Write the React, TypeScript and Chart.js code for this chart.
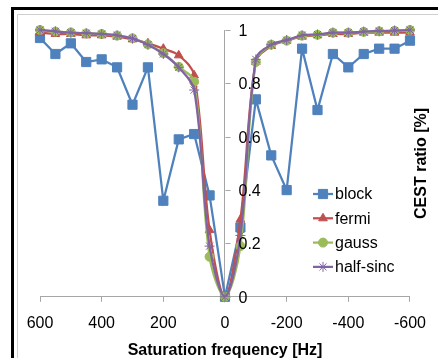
import React, { useEffect, useRef } from 'react';
import { Chart, registerables } from 'chart.js';
import { drawPoint } from 'chart.js/helpers';

Chart.register(...registerables);

const frequencies = [600, 550, 500, 450, 400, 350, 300, 250, 200, 150, 100, 50, 0, -50, -100, -150, -200, -250, -300, -350, -400, -450, -500, -550, -600];
const block = [0.97, 0.91, 0.95, 0.88, 0.89, 0.86, 0.72, 0.86, 0.36, 0.59, 0.61, 0.38, 0.0, 0.26, 0.74, 0.53, 0.4, 0.93, 0.7, 0.91, 0.86, 0.91, 0.93, 0.93, 0.96];
const fermi = [0.99, 0.985, 0.985, 0.98, 0.98, 0.975, 0.965, 0.95, 0.93, 0.905, 0.83, 0.25, 0.0, 0.29, 0.88, 0.94, 0.96, 0.975, 0.98, 0.985, 0.985, 0.99, 0.99, 0.99, 0.99];
const gauss = [1.0, 0.994, 0.991, 0.987, 0.985, 0.979, 0.969, 0.946, 0.913, 0.862, 0.806, 0.15, 0.0, 0.19, 0.88, 0.945, 0.96, 0.979, 0.982, 0.99, 0.99, 0.993, 0.995, 0.997, 1.0];
const halfSinc = [1.0, 0.995, 0.99, 0.988, 0.985, 0.98, 0.968, 0.945, 0.91, 0.86, 0.775, 0.19, 0.0, 0.23, 0.89, 0.945, 0.962, 0.98, 0.983, 0.99, 0.99, 0.994, 0.996, 0.998, 1.0];
const seriesNames = ['block', 'fermi', 'gauss', 'half-sinc'];
const xTitle = 'Saturation frequency [Hz]';
const yTitle = 'CEST ratio [%]';

const FONT = "'Liberation Sans', Arial, sans-serif";
const AXIS_GRAY = '#a6a6a6';

const styles = [
  { color: '#4F81BD', pointStyle: 'rect', radius: 6.5, borderWidth: 1, tension: 0 },
  { color: '#C0504D', pointStyle: 'triangle', radius: 5, borderWidth: 1, tension: 0.35 },
  { color: '#9BBB59', pointStyle: 'circle', radius: 4.5, borderWidth: 1, tension: 0.35 },
  { color: '#8064A2', pointStyle: 'star', radius: 5, borderWidth: 1, tension: 0.35 },
];

const decorPlugin = {
  id: 'decor',
  beforeDraw(chart: any) {
    const ctx = chart.ctx;
    const w = chart.width;
    const h = chart.height;
    ctx.save();
    ctx.fillStyle = '#ffffff';
    ctx.fillRect(0, 0, w, h);
    ctx.strokeStyle = '#000000';
    ctx.lineWidth = 3;
    ctx.beginPath();
    ctx.moveTo(12.5, h);
    ctx.lineTo(12.5, 8.5);
    ctx.lineTo(w, 8.5);
    ctx.stroke();
    ctx.strokeStyle = '#cfcfcf';
    ctx.lineWidth = 1;
    ctx.beginPath();
    ctx.moveTo(17.5, h);
    ctx.lineTo(17.5, 14.5);
    ctx.lineTo(w, 14.5);
    ctx.stroke();
    ctx.restore();
  },
  afterDraw(chart: any) {
    const ctx = chart.ctx;
    const xScale = chart.scales.x;
    const yScale = chart.scales.y;
    const x0 = Math.round(xScale.getPixelForValue(0)) + 0.5;
    ctx.save();
    ctx.strokeStyle = AXIS_GRAY;
    ctx.lineWidth = 1;
    ctx.fillStyle = '#000';
    ctx.font = `16px ${FONT}`;
    ctx.textAlign = 'left';
    ctx.textBaseline = 'middle';
    yScale.ticks.forEach((t: any) => {
      const py = Math.round(yScale.getPixelForValue(t.value)) + 0.5;
      ctx.beginPath();
      ctx.moveTo(x0, py);
      ctx.lineTo(x0 + 5, py);
      ctx.stroke();
      const label = String(Number(t.value.toFixed(2)));
      ctx.fillText(label, x0 + 13, py + 1);
    });
    chart.data.datasets.forEach((ds: any, i: number) => {
      const ly = 194 + i * 24.3;
      const st = styles[i];
      ctx.strokeStyle = st.color;
      ctx.fillStyle = st.color;
      ctx.lineWidth = 2.25;
      ctx.beginPath();
      ctx.moveTo(313, ly);
      ctx.lineTo(333, ly);
      ctx.stroke();
      ctx.lineWidth = st.borderWidth;
      drawPoint(ctx, { pointStyle: st.pointStyle, radius: st.radius, rotation: 0, borderWidth: st.borderWidth }, 323, ly);
      ctx.fillStyle = '#000';
      ctx.font = `16px ${FONT}`;
      ctx.textAlign = 'left';
      ctx.textBaseline = 'middle';
      ctx.fillText(ds.label, 335, ly + 1);
    });
    const area = chart.chartArea;
    ctx.translate(422, (area.top + area.bottom) / 2);
    ctx.rotate(-Math.PI / 2);
    ctx.font = `bold 16px ${FONT}`;
    ctx.textAlign = 'center';
    ctx.textBaseline = 'middle';
    ctx.fillStyle = '#000';
    ctx.fillText(yTitle, 0, 0);
    ctx.restore();
  },
};

export default function App() {
  const canvasRef = useRef<HTMLCanvasElement | null>(null);

  useEffect(() => {
    const canvas = canvasRef.current;
    if (!canvas) return;
    const seriesValues = [block, fermi, gauss, halfSinc];
    const datasets = seriesValues.map((vals, i) => {
      const st = styles[i];
      return {
        label: seriesNames[i],
        data: frequencies.map((f, j) => ({ x: f, y: vals[j] })),
        borderColor: st.color,
        backgroundColor: st.color,
        pointBackgroundColor: st.color,
        pointBorderColor: st.color,
        pointStyle: st.pointStyle,
        pointRadius: st.radius,
        pointBorderWidth: st.borderWidth,
        borderWidth: 2.25,
        tension: st.tension,
        fill: false,
        order: 4 - i,
        clip: { left: 10, right: 10, top: 10, bottom: 8 },
      };
    });
    const chart = new Chart(canvas, {
      type: 'line',
      data: { datasets },
      options: {
        responsive: false,
        animation: false,
        devicePixelRatio: 1,
        layout: { padding: { left: 40, right: 28, top: 30, bottom: -1 } },
        plugins: { legend: { display: false }, tooltip: { enabled: false } },
        scales: {
          x: {
            type: 'linear',
            reverse: true,
            min: -600,
            max: 600,
            ticks: { stepSize: 200, padding: 12, color: '#000', font: { family: FONT, size: 16 } },
            grid: { display: true, drawOnChartArea: false, drawTicks: true, tickLength: 5, color: AXIS_GRAY },
            border: { display: true, color: AXIS_GRAY, width: 1 },
            title: {
              display: true,
              text: xTitle,
              color: '#000',
              font: { family: FONT, size: 16, weight: 'bold', lineHeight: 1 },
              padding: { top: -2, bottom: 0 },
            },
          },
          y: {
            type: 'linear',
            position: { x: 0 },
            min: 0,
            max: 1,
            ticks: { stepSize: 0.2, display: false },
            grid: { display: false },
            border: { display: true, color: AXIS_GRAY, width: 1 },
          },
        },
      },
      plugins: [decorPlugin],
    } as any);
    return () => chart.destroy();
  }, []);

  return (
    <div style={{ position: 'fixed', left: 0, top: 0, width: 438, height: 358, background: '#fff' }}>
      <canvas ref={canvasRef} width={438} height={358} style={{ display: 'block', width: 438, height: 358 }} />
    </div>
  );
}
